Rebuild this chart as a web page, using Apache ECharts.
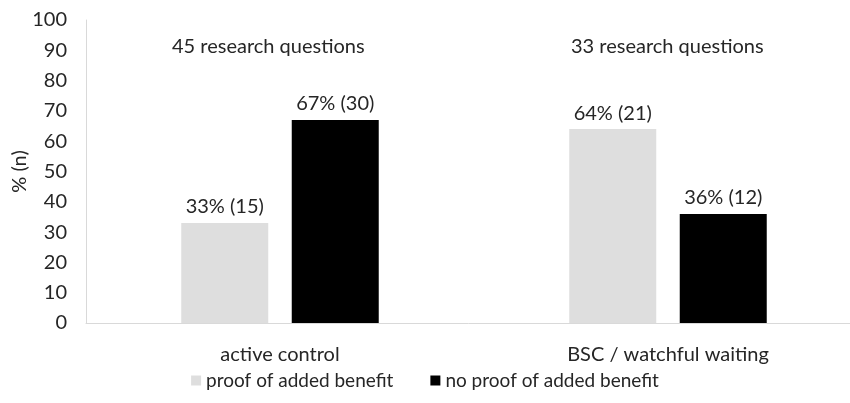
<!DOCTYPE html>
<html>
<head>
<meta charset="utf-8">
<script src="https://cdn.jsdelivr.net/npm/echarts@6/dist/echarts.min.js"></script>
<style>
  html, body { margin: 0; padding: 0; background: #fff; }
  #chart { width: 850px; height: 403px; }
</style>
</head>
<body>
<div id="chart"></div>
<script>
// Comparator groups on the x axis
const categories = ['active control', 'BSC / watchful waiting'];
// Share of research questions (%) and absolute counts (n)
const proofPct = [33, 64];
const proofN = [15, 21];
const noProofPct = [67, 36];
const noProofN = [30, 12];
// Number of research questions per group
const groupTotals = ['45 research questions', '33 research questions'];
// Y axis ticks
const yMin = 0, yMax = 100, yStep = 10;

const FONT = 'Lato';
const TEXT = '#262626';
const FS = 20;

function labelFor(nArr) {
  return function (p) { return p.value + '% (' + nArr[p.dataIndex] + ')'; };
}

const chart = echarts.init(document.getElementById('chart'), null, { renderer: 'canvas' });
chart.setOption({
  animation: false,
  backgroundColor: '#ffffff',
  textStyle: { fontFamily: FONT, color: TEXT },
  grid: { left: 86, right: -12, top: 20, bottom: 80, containLabel: false, outerBoundsMode: 'none' },
  legend: {
    bottom: 8,
    left: 'center',
    itemWidth: 10,
    itemHeight: 10,
    itemGap: 37,
    icon: 'rect',
    textStyle: { fontFamily: FONT, fontSize: 19, color: TEXT },
    data: ['proof of added benefit', 'no proof of added benefit']
  },
  xAxis: {
    type: 'category',
    data: categories,
    axisLine: { lineStyle: { color: '#d9d9d9', width: 1 } },
    axisTick: { show: false },
    axisLabel: { fontFamily: FONT, fontSize: FS, color: TEXT, margin: 22 }
  },
  yAxis: {
    type: 'value',
    min: yMin, max: yMax, interval: yStep,
    name: '% (n)',
    nameLocation: 'middle',
    nameRotate: 90,
    nameGap: 56,
    nameMoveOverlap: false,
    nameTextStyle: { fontFamily: FONT, fontSize: FS, color: TEXT },
    axisLine: { show: true, lineStyle: { color: '#d9d9d9', width: 1 } },
    axisTick: { show: false },
    splitLine: { show: false },
    axisLabel: { fontFamily: FONT, fontSize: FS, color: TEXT, margin: 19 }
  },
  series: [
    {
      name: 'proof of added benefit',
      type: 'bar',
      data: proofPct,
      barWidth: 87,
      barGap: '27%',
      itemStyle: { color: '#dedede' },
      label: {
        show: true, position: 'top', distance: 6,
        fontFamily: FONT, fontSize: FS, color: TEXT,
        formatter: labelFor(proofN)
      }
    },
    {
      name: 'no proof of added benefit',
      type: 'bar',
      data: noProofPct,
      barWidth: 87,
      itemStyle: { color: '#000000' },
      label: {
        show: true, position: 'top', distance: 6,
        fontFamily: FONT, fontSize: FS, color: TEXT,
        formatter: labelFor(noProofN)
      }
    }
  ],
  graphic: [
    { type: 'text', left: 172, top: 37, style: { text: groupTotals[0], font: FS + 'px ' + FONT, fill: TEXT } },
    { type: 'text', left: 571, top: 37, style: { text: groupTotals[1], font: FS + 'px ' + FONT, fill: TEXT } }
  ]
});
</script>
</body>
</html>
